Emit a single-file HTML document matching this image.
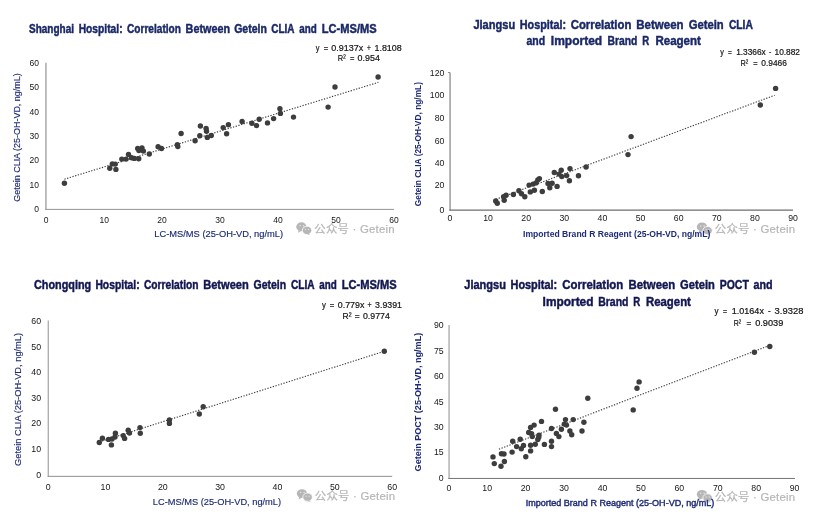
<!DOCTYPE html>
<html lang="en"><head><meta charset="utf-8"><title>Getein 25-OH-VD correlation charts</title>
<style>
html,body{margin:0;padding:0;background:#fff;}
body{width:814px;height:523px;overflow:hidden;}
svg{display:block;will-change:transform;font-family:"Liberation Sans","Noto Sans CJK SC",sans-serif;}
</style></head><body>
<svg width="814" height="523" viewBox="0 0 814 523">
<rect width="814" height="523" fill="#fff"/>
<line x1="45.95" y1="62.8" x2="45.95" y2="209.9" stroke="#939393" stroke-width="1.2"/>
<line x1="45.35" y1="209.4" x2="394.0" y2="209.4" stroke="#959595" stroke-width="1.0"/>
<text x="46.2" y="222.9" font-size="8.5" fill="#161616" text-anchor="middle" font-weight="normal">0</text>
<text x="104.2" y="222.9" font-size="8.5" fill="#161616" text-anchor="middle" font-weight="normal">10</text>
<text x="162.1" y="222.9" font-size="8.5" fill="#161616" text-anchor="middle" font-weight="normal">20</text>
<text x="220.1" y="222.9" font-size="8.5" fill="#161616" text-anchor="middle" font-weight="normal">30</text>
<text x="278.0" y="222.9" font-size="8.5" fill="#161616" text-anchor="middle" font-weight="normal">40</text>
<text x="335.9" y="222.9" font-size="8.5" fill="#161616" text-anchor="middle" font-weight="normal">50</text>
<text x="393.9" y="222.9" font-size="8.5" fill="#161616" text-anchor="middle" font-weight="normal">60</text>
<text x="39.0" y="211.8" font-size="8.5" fill="#161616" text-anchor="end" font-weight="normal">0</text>
<text x="39.0" y="187.5" font-size="8.5" fill="#161616" text-anchor="end" font-weight="normal">10</text>
<text x="39.0" y="163.2" font-size="8.5" fill="#161616" text-anchor="end" font-weight="normal">20</text>
<text x="39.0" y="138.9" font-size="8.5" fill="#161616" text-anchor="end" font-weight="normal">30</text>
<text x="39.0" y="114.6" font-size="8.5" fill="#161616" text-anchor="end" font-weight="normal">40</text>
<text x="39.0" y="90.3" font-size="8.5" fill="#161616" text-anchor="end" font-weight="normal">50</text>
<text x="39.0" y="66.0" font-size="8.5" fill="#161616" text-anchor="end" font-weight="normal">60</text>
<line x1="64.4" y1="179.2" x2="378.4" y2="82.3" stroke="#3a3a3a" stroke-width="1.1" stroke-dasharray="1.3 1.5"/>
<g fill="#3d3d3d"><circle cx="64.4" cy="183.3" r="2.7"/><circle cx="109.8" cy="168.2" r="2.7"/><circle cx="112.3" cy="163.9" r="2.7"/><circle cx="115.3" cy="164.1" r="2.7"/><circle cx="115.9" cy="169.4" r="2.7"/><circle cx="121.8" cy="159.1" r="2.7"/><circle cx="126.1" cy="159.1" r="2.7"/><circle cx="128.5" cy="154.4" r="2.7"/><circle cx="131.6" cy="157.8" r="2.7"/><circle cx="134.3" cy="158.4" r="2.7"/><circle cx="138.7" cy="158.7" r="2.7"/><circle cx="137.7" cy="148.5" r="2.7"/><circle cx="142.0" cy="147.9" r="2.7"/><circle cx="138.9" cy="150.5" r="2.7"/><circle cx="143.4" cy="151.1" r="2.7"/><circle cx="149.3" cy="154.0" r="2.7"/><circle cx="158.1" cy="146.8" r="2.7"/><circle cx="161.5" cy="148.5" r="2.7"/><circle cx="177.4" cy="144.8" r="2.7"/><circle cx="177.8" cy="146.6" r="2.7"/><circle cx="181.1" cy="133.5" r="2.7"/><circle cx="195.1" cy="140.7" r="2.7"/><circle cx="199.8" cy="135.7" r="2.7"/><circle cx="200.4" cy="126.0" r="2.7"/><circle cx="206.1" cy="128.4" r="2.7"/><circle cx="206.5" cy="131.3" r="2.7"/><circle cx="207.3" cy="137.4" r="2.7"/><circle cx="211.3" cy="135.5" r="2.7"/><circle cx="223.2" cy="127.6" r="2.7"/><circle cx="228.4" cy="124.8" r="2.7"/><circle cx="226.6" cy="133.7" r="2.7"/><circle cx="242.1" cy="121.5" r="2.7"/><circle cx="251.9" cy="123.3" r="2.7"/><circle cx="256.5" cy="125.6" r="2.7"/><circle cx="259.2" cy="119.3" r="2.7"/><circle cx="267.5" cy="122.9" r="2.7"/><circle cx="273.6" cy="118.6" r="2.7"/><circle cx="279.9" cy="108.7" r="2.7"/><circle cx="280.4" cy="113.4" r="2.7"/><circle cx="293.5" cy="117.1" r="2.7"/><circle cx="328.1" cy="107.1" r="2.7"/><circle cx="335.0" cy="87.0" r="2.7"/><circle cx="378.1" cy="77.0" r="2.7"/></g>
<line x1="450.05" y1="72.5" x2="450.05" y2="210.7" stroke="#878787" stroke-width="1.25"/>
<line x1="449.43" y1="210.15" x2="793.0" y2="210.15" stroke="#6e6e6e" stroke-width="1.1"/>
<text x="450.0" y="221.4" font-size="9.2" fill="#161616" text-anchor="middle" font-weight="normal" textLength="4.85" lengthAdjust="spacingAndGlyphs">0</text>
<text x="488.1" y="221.4" font-size="9.2" fill="#161616" text-anchor="middle" font-weight="normal" textLength="9.7" lengthAdjust="spacingAndGlyphs">10</text>
<text x="526.2" y="221.4" font-size="9.2" fill="#161616" text-anchor="middle" font-weight="normal" textLength="9.7" lengthAdjust="spacingAndGlyphs">20</text>
<text x="564.3" y="221.4" font-size="9.2" fill="#161616" text-anchor="middle" font-weight="normal" textLength="9.7" lengthAdjust="spacingAndGlyphs">30</text>
<text x="602.4" y="221.4" font-size="9.2" fill="#161616" text-anchor="middle" font-weight="normal" textLength="9.7" lengthAdjust="spacingAndGlyphs">40</text>
<text x="640.6" y="221.4" font-size="9.2" fill="#161616" text-anchor="middle" font-weight="normal" textLength="9.7" lengthAdjust="spacingAndGlyphs">50</text>
<text x="678.7" y="221.4" font-size="9.2" fill="#161616" text-anchor="middle" font-weight="normal" textLength="9.7" lengthAdjust="spacingAndGlyphs">60</text>
<text x="716.8" y="221.4" font-size="9.2" fill="#161616" text-anchor="middle" font-weight="normal" textLength="9.7" lengthAdjust="spacingAndGlyphs">70</text>
<text x="754.9" y="221.4" font-size="9.2" fill="#161616" text-anchor="middle" font-weight="normal" textLength="9.7" lengthAdjust="spacingAndGlyphs">80</text>
<text x="793.0" y="221.4" font-size="9.2" fill="#161616" text-anchor="middle" font-weight="normal" textLength="9.7" lengthAdjust="spacingAndGlyphs">90</text>
<text x="444.4" y="212.8" font-size="9.2" fill="#161616" text-anchor="end" font-weight="normal" textLength="4.85" lengthAdjust="spacingAndGlyphs">0</text>
<text x="444.4" y="188.3" font-size="9.2" fill="#161616" text-anchor="end" font-weight="normal" textLength="9.7" lengthAdjust="spacingAndGlyphs">20</text>
<text x="444.4" y="166.2" font-size="9.2" fill="#161616" text-anchor="end" font-weight="normal" textLength="9.7" lengthAdjust="spacingAndGlyphs">40</text>
<text x="444.4" y="143.5" font-size="9.2" fill="#161616" text-anchor="end" font-weight="normal" textLength="9.7" lengthAdjust="spacingAndGlyphs">60</text>
<text x="444.4" y="120.8" font-size="9.2" fill="#161616" text-anchor="end" font-weight="normal" textLength="9.7" lengthAdjust="spacingAndGlyphs">80</text>
<text x="444.4" y="98.1" font-size="9.2" fill="#161616" text-anchor="end" font-weight="normal" textLength="14.55" lengthAdjust="spacingAndGlyphs">100</text>
<text x="444.4" y="75.6" font-size="9.2" fill="#161616" text-anchor="end" font-weight="normal" textLength="14.55" lengthAdjust="spacingAndGlyphs">120</text>
<line x1="496.0" y1="199.3" x2="774.7" y2="95.2" stroke="#3a3a3a" stroke-width="1.1" stroke-dasharray="1.3 1.5"/>
<g fill="#3d3d3d"><circle cx="495.7" cy="201.0" r="2.7"/><circle cx="497.3" cy="203.3" r="2.7"/><circle cx="503.6" cy="196.7" r="2.7"/><circle cx="504.2" cy="200.2" r="2.7"/><circle cx="506.1" cy="195.3" r="2.7"/><circle cx="513.4" cy="194.5" r="2.7"/><circle cx="518.9" cy="190.8" r="2.7"/><circle cx="521.5" cy="193.7" r="2.7"/><circle cx="524.8" cy="196.7" r="2.7"/><circle cx="529.1" cy="185.1" r="2.7"/><circle cx="530.3" cy="191.9" r="2.7"/><circle cx="533.1" cy="184.1" r="2.7"/><circle cx="534.4" cy="190.2" r="2.7"/><circle cx="536.0" cy="182.9" r="2.7"/><circle cx="537.8" cy="180.0" r="2.7"/><circle cx="539.4" cy="178.6" r="2.7"/><circle cx="542.3" cy="191.5" r="2.7"/><circle cx="548.0" cy="183.5" r="2.7"/><circle cx="549.8" cy="187.8" r="2.7"/><circle cx="552.1" cy="183.3" r="2.7"/><circle cx="554.3" cy="172.5" r="2.7"/><circle cx="557.1" cy="186.4" r="2.7"/><circle cx="559.0" cy="174.1" r="2.7"/><circle cx="561.2" cy="170.3" r="2.7"/><circle cx="561.8" cy="176.6" r="2.7"/><circle cx="566.7" cy="175.6" r="2.7"/><circle cx="569.4" cy="180.7" r="2.7"/><circle cx="570.0" cy="168.6" r="2.7"/><circle cx="578.5" cy="175.8" r="2.7"/><circle cx="586.1" cy="167.0" r="2.7"/><circle cx="628.0" cy="154.6" r="2.7"/><circle cx="631.1" cy="136.6" r="2.7"/><circle cx="760.3" cy="105.0" r="2.7"/><circle cx="775.6" cy="88.4" r="2.7"/></g>
<line x1="48.25" y1="320.5" x2="48.25" y2="476.85" stroke="#a0a0a0" stroke-width="1.15"/>
<line x1="47.67" y1="476.35" x2="392.2" y2="476.35" stroke="#8f8f8f" stroke-width="1.0"/>
<text x="48.1" y="489.6" font-size="8.8" fill="#161616" text-anchor="middle" font-weight="normal">0</text>
<text x="105.4" y="489.6" font-size="8.8" fill="#161616" text-anchor="middle" font-weight="normal">10</text>
<text x="162.8" y="489.6" font-size="8.8" fill="#161616" text-anchor="middle" font-weight="normal">20</text>
<text x="220.1" y="489.6" font-size="8.8" fill="#161616" text-anchor="middle" font-weight="normal">30</text>
<text x="277.5" y="489.6" font-size="8.8" fill="#161616" text-anchor="middle" font-weight="normal">40</text>
<text x="334.8" y="489.6" font-size="8.8" fill="#161616" text-anchor="middle" font-weight="normal">50</text>
<text x="392.2" y="489.6" font-size="8.8" fill="#161616" text-anchor="middle" font-weight="normal">60</text>
<text x="41.1" y="477.6" font-size="8.8" fill="#161616" text-anchor="end" font-weight="normal">0</text>
<text x="41.1" y="451.9" font-size="8.8" fill="#161616" text-anchor="end" font-weight="normal">10</text>
<text x="41.1" y="426.3" font-size="8.8" fill="#161616" text-anchor="end" font-weight="normal">20</text>
<text x="41.1" y="400.7" font-size="8.8" fill="#161616" text-anchor="end" font-weight="normal">30</text>
<text x="41.1" y="375.1" font-size="8.8" fill="#161616" text-anchor="end" font-weight="normal">40</text>
<text x="41.1" y="349.5" font-size="8.8" fill="#161616" text-anchor="end" font-weight="normal">50</text>
<text x="41.1" y="323.9" font-size="8.8" fill="#161616" text-anchor="end" font-weight="normal">60</text>
<line x1="99.3" y1="441.9" x2="384.3" y2="351.3" stroke="#3a3a3a" stroke-width="1.1" stroke-dasharray="1.3 1.5"/>
<g fill="#3d3d3d"><circle cx="99.3" cy="442.5" r="2.7"/><circle cx="102.4" cy="438.2" r="2.7"/><circle cx="108.5" cy="439.4" r="2.7"/><circle cx="111.4" cy="444.9" r="2.7"/><circle cx="112.0" cy="439.0" r="2.7"/><circle cx="115.0" cy="437.0" r="2.7"/><circle cx="115.4" cy="433.3" r="2.7"/><circle cx="123.2" cy="435.6" r="2.7"/><circle cx="124.6" cy="438.4" r="2.7"/><circle cx="128.2" cy="430.3" r="2.7"/><circle cx="129.5" cy="433.1" r="2.7"/><circle cx="140.0" cy="427.6" r="2.7"/><circle cx="140.3" cy="433.3" r="2.7"/><circle cx="169.4" cy="419.9" r="2.7"/><circle cx="169.4" cy="423.4" r="2.7"/><circle cx="199.3" cy="414.0" r="2.7"/><circle cx="203.2" cy="406.7" r="2.7"/><circle cx="384.3" cy="351.3" r="2.7"/></g>
<line x1="449.05" y1="325.0" x2="449.05" y2="478.95" stroke="#a8a8a8" stroke-width="1.3"/>
<line x1="448.4" y1="478.45" x2="795.0" y2="478.45" stroke="#737373" stroke-width="1.0"/>
<text x="448.8" y="490.7" font-size="9.2" fill="#161616" text-anchor="middle" font-weight="normal" textLength="4.85" lengthAdjust="spacingAndGlyphs">0</text>
<text x="487.2" y="490.7" font-size="9.2" fill="#161616" text-anchor="middle" font-weight="normal" textLength="9.7" lengthAdjust="spacingAndGlyphs">10</text>
<text x="525.6" y="490.7" font-size="9.2" fill="#161616" text-anchor="middle" font-weight="normal" textLength="9.7" lengthAdjust="spacingAndGlyphs">20</text>
<text x="564.1" y="490.7" font-size="9.2" fill="#161616" text-anchor="middle" font-weight="normal" textLength="9.7" lengthAdjust="spacingAndGlyphs">30</text>
<text x="602.5" y="490.7" font-size="9.2" fill="#161616" text-anchor="middle" font-weight="normal" textLength="9.7" lengthAdjust="spacingAndGlyphs">40</text>
<text x="640.9" y="490.7" font-size="9.2" fill="#161616" text-anchor="middle" font-weight="normal" textLength="9.7" lengthAdjust="spacingAndGlyphs">50</text>
<text x="679.3" y="490.7" font-size="9.2" fill="#161616" text-anchor="middle" font-weight="normal" textLength="9.7" lengthAdjust="spacingAndGlyphs">60</text>
<text x="717.8" y="490.7" font-size="9.2" fill="#161616" text-anchor="middle" font-weight="normal" textLength="9.7" lengthAdjust="spacingAndGlyphs">70</text>
<text x="756.2" y="490.7" font-size="9.2" fill="#161616" text-anchor="middle" font-weight="normal" textLength="9.7" lengthAdjust="spacingAndGlyphs">80</text>
<text x="794.6" y="490.7" font-size="9.2" fill="#161616" text-anchor="middle" font-weight="normal" textLength="9.7" lengthAdjust="spacingAndGlyphs">90</text>
<text x="443.6" y="480.9" font-size="9.2" fill="#161616" text-anchor="end" font-weight="normal" textLength="4.85" lengthAdjust="spacingAndGlyphs">0</text>
<text x="443.6" y="455.4" font-size="9.2" fill="#161616" text-anchor="end" font-weight="normal" textLength="9.7" lengthAdjust="spacingAndGlyphs">15</text>
<text x="443.6" y="430.0" font-size="9.2" fill="#161616" text-anchor="end" font-weight="normal" textLength="9.7" lengthAdjust="spacingAndGlyphs">30</text>
<text x="443.6" y="404.5" font-size="9.2" fill="#161616" text-anchor="end" font-weight="normal" textLength="9.7" lengthAdjust="spacingAndGlyphs">45</text>
<text x="443.6" y="379.1" font-size="9.2" fill="#161616" text-anchor="end" font-weight="normal" textLength="9.7" lengthAdjust="spacingAndGlyphs">60</text>
<text x="443.6" y="353.6" font-size="9.2" fill="#161616" text-anchor="end" font-weight="normal" textLength="9.7" lengthAdjust="spacingAndGlyphs">75</text>
<text x="443.6" y="328.2" font-size="9.2" fill="#161616" text-anchor="end" font-weight="normal" textLength="9.7" lengthAdjust="spacingAndGlyphs">90</text>
<line x1="498.9" y1="449.2" x2="769.8" y2="345.3" stroke="#3a3a3a" stroke-width="1.1" stroke-dasharray="1.3 1.5"/>
<g fill="#3d3d3d"><circle cx="493.0" cy="456.9" r="2.7"/><circle cx="494.3" cy="463.6" r="2.7"/><circle cx="501.0" cy="466.3" r="2.7"/><circle cx="504.4" cy="461.5" r="2.7"/><circle cx="501.4" cy="453.7" r="2.7"/><circle cx="504.0" cy="454.0" r="2.7"/><circle cx="512.1" cy="452.1" r="2.7"/><circle cx="512.7" cy="441.3" r="2.7"/><circle cx="516.6" cy="446.6" r="2.7"/><circle cx="520.2" cy="439.3" r="2.7"/><circle cx="521.3" cy="448.7" r="2.7"/><circle cx="523.5" cy="445.4" r="2.7"/><circle cx="525.8" cy="456.8" r="2.7"/><circle cx="528.7" cy="432.5" r="2.7"/><circle cx="530.6" cy="427.5" r="2.7"/><circle cx="530.6" cy="445.2" r="2.7"/><circle cx="530.6" cy="450.9" r="2.7"/><circle cx="531.6" cy="433.7" r="2.7"/><circle cx="532.3" cy="436.6" r="2.7"/><circle cx="534.1" cy="425.1" r="2.7"/><circle cx="535.3" cy="444.3" r="2.7"/><circle cx="537.8" cy="439.5" r="2.7"/><circle cx="539.0" cy="435.1" r="2.7"/><circle cx="538.7" cy="437.3" r="2.7"/><circle cx="541.5" cy="421.4" r="2.7"/><circle cx="544.4" cy="444.4" r="2.7"/><circle cx="551.5" cy="428.5" r="2.7"/><circle cx="551.5" cy="441.3" r="2.7"/><circle cx="551.5" cy="446.6" r="2.7"/><circle cx="555.5" cy="409.3" r="2.7"/><circle cx="556.4" cy="433.4" r="2.7"/><circle cx="558.9" cy="436.6" r="2.7"/><circle cx="561.4" cy="429.2" r="2.7"/><circle cx="564.3" cy="424.1" r="2.7"/><circle cx="565.5" cy="419.6" r="2.7"/><circle cx="566.5" cy="425.1" r="2.7"/><circle cx="569.9" cy="431.0" r="2.7"/><circle cx="571.7" cy="434.7" r="2.7"/><circle cx="573.2" cy="419.6" r="2.7"/><circle cx="582.0" cy="431.0" r="2.7"/><circle cx="583.9" cy="422.3" r="2.7"/><circle cx="587.8" cy="398.3" r="2.7"/><circle cx="633.2" cy="409.9" r="2.7"/><circle cx="637.0" cy="388.2" r="2.7"/><circle cx="639.1" cy="381.9" r="2.7"/><circle cx="754.4" cy="352.3" r="2.7"/><circle cx="769.8" cy="346.5" r="2.7"/></g>
<g transform="translate(296.2,222.4)" fill="#b6b6b6"><ellipse cx="5.2" cy="4.35" rx="5.2" ry="4.4"/><path d="M2.3 7.6 L1.9 10.3 L4.9 8.6 Z"/><ellipse cx="10.8" cy="8.0" rx="4.75" ry="4.2" stroke="#fff" stroke-width="0.8"/><path d="M12.4 11.3 L14.0 12.6 L10.9 12.1 Z"/><circle cx="3.9" cy="3.3" r="0.75" fill="#e6e6e6"/><circle cx="7.3" cy="3.3" r="0.75" fill="#e6e6e6"/><circle cx="9.3" cy="7.0" r="0.65" fill="#e6e6e6"/><circle cx="12.3" cy="7.0" r="0.65" fill="#e6e6e6"/></g><text x="314.3" y="233.4" font-size="11.4" fill="#b6b6b6" stroke="#b6b6b6" stroke-width="0.2" textLength="80.2" lengthAdjust="spacing">公众号 · Getein</text>
<g transform="translate(696.8,222.6)" fill="#b6b6b6"><ellipse cx="5.2" cy="4.35" rx="5.2" ry="4.4"/><path d="M2.3 7.6 L1.9 10.3 L4.9 8.6 Z"/><ellipse cx="10.8" cy="8.0" rx="4.75" ry="4.2" stroke="#fff" stroke-width="0.8"/><path d="M12.4 11.3 L14.0 12.6 L10.9 12.1 Z"/><circle cx="3.9" cy="3.3" r="0.75" fill="#e6e6e6"/><circle cx="7.3" cy="3.3" r="0.75" fill="#e6e6e6"/><circle cx="9.3" cy="7.0" r="0.65" fill="#e6e6e6"/><circle cx="12.3" cy="7.0" r="0.65" fill="#e6e6e6"/></g><text x="714.8" y="233.4" font-size="11.4" fill="#b6b6b6" stroke="#b6b6b6" stroke-width="0.2" textLength="80.2" lengthAdjust="spacing">公众号 · Getein</text>
<g transform="translate(296.8,489.2)" fill="#b6b6b6"><ellipse cx="5.2" cy="4.35" rx="5.2" ry="4.4"/><path d="M2.3 7.6 L1.9 10.3 L4.9 8.6 Z"/><ellipse cx="10.8" cy="8.0" rx="4.75" ry="4.2" stroke="#fff" stroke-width="0.8"/><path d="M12.4 11.3 L14.0 12.6 L10.9 12.1 Z"/><circle cx="3.9" cy="3.3" r="0.75" fill="#e6e6e6"/><circle cx="7.3" cy="3.3" r="0.75" fill="#e6e6e6"/><circle cx="9.3" cy="7.0" r="0.65" fill="#e6e6e6"/><circle cx="12.3" cy="7.0" r="0.65" fill="#e6e6e6"/></g><text x="314.8" y="500.2" font-size="11.4" fill="#b6b6b6" stroke="#b6b6b6" stroke-width="0.2" textLength="80.2" lengthAdjust="spacing">公众号 · Getein</text>
<g transform="translate(696.8,490.0)" fill="#b6b6b6"><ellipse cx="5.2" cy="4.35" rx="5.2" ry="4.4"/><path d="M2.3 7.6 L1.9 10.3 L4.9 8.6 Z"/><ellipse cx="10.8" cy="8.0" rx="4.75" ry="4.2" stroke="#fff" stroke-width="0.8"/><path d="M12.4 11.3 L14.0 12.6 L10.9 12.1 Z"/><circle cx="3.9" cy="3.3" r="0.75" fill="#e6e6e6"/><circle cx="7.3" cy="3.3" r="0.75" fill="#e6e6e6"/><circle cx="9.3" cy="7.0" r="0.65" fill="#e6e6e6"/><circle cx="12.3" cy="7.0" r="0.65" fill="#e6e6e6"/></g><text x="714.8" y="501.0" font-size="11.4" fill="#b6b6b6" stroke="#b6b6b6" stroke-width="0.2" textLength="80.2" lengthAdjust="spacing">公众号 · Getein</text>
<path d="M448.0 72.6 H450.0" stroke="#878787" stroke-width="1"/>
<text y="32.5" font-size="12.5" font-weight="bold" fill="#1a2866" stroke="#1a2866" stroke-width="0.45"><tspan x="29.0" textLength="45.0" lengthAdjust="spacingAndGlyphs">Shanghai</tspan> <tspan x="78.7" textLength="43.9" lengthAdjust="spacingAndGlyphs">Hospital:</tspan> <tspan x="127.0" textLength="53.9" lengthAdjust="spacingAndGlyphs">Correlation</tspan> <tspan x="185.6" textLength="44.4" lengthAdjust="spacingAndGlyphs">Between</tspan> <tspan x="234.2" textLength="32.7" lengthAdjust="spacingAndGlyphs">Getein</tspan> <tspan x="271.3" textLength="22.9" lengthAdjust="spacingAndGlyphs">CLIA</tspan> <tspan x="299.3" textLength="17.5" lengthAdjust="spacingAndGlyphs">and</tspan> <tspan x="321.8" textLength="54.8" lengthAdjust="spacingAndGlyphs">LC-MS/MS</tspan></text>
<text y="29.4" font-size="12.8" font-weight="bold" fill="#1a2866" stroke="#1a2866" stroke-width="0.45"><tspan x="473.4" textLength="41.8" lengthAdjust="spacingAndGlyphs">Jiangsu</tspan> <tspan x="519.8" textLength="46.2" lengthAdjust="spacingAndGlyphs">Hospital:</tspan> <tspan x="570.7" textLength="60.7" lengthAdjust="spacingAndGlyphs">Correlation</tspan> <tspan x="636.3" textLength="47.3" lengthAdjust="spacingAndGlyphs">Between</tspan> <tspan x="688.7" textLength="35.0" lengthAdjust="spacingAndGlyphs">Getein</tspan> <tspan x="728.9" textLength="24.0" lengthAdjust="spacingAndGlyphs">CLIA</tspan></text>
<text y="44.5" font-size="12.8" font-weight="bold" fill="#1a2866" stroke="#1a2866" stroke-width="0.45"><tspan x="526.5" textLength="18.7" lengthAdjust="spacingAndGlyphs">and</tspan> <tspan x="550.8" textLength="51.4" lengthAdjust="spacingAndGlyphs">Imported</tspan> <tspan x="607.5" textLength="29.9" lengthAdjust="spacingAndGlyphs">Brand</tspan> <tspan x="642.3" textLength="7.0" lengthAdjust="spacingAndGlyphs">R</tspan> <tspan x="655.4" textLength="45.5" lengthAdjust="spacingAndGlyphs">Reagent</tspan></text>
<text y="289.2" font-size="12.5" font-weight="bold" fill="#121650" stroke="#121650" stroke-width="0.45"><tspan x="34.0" textLength="57.2" lengthAdjust="spacingAndGlyphs">Chongqing</tspan> <tspan x="95.4" textLength="44.3" lengthAdjust="spacingAndGlyphs">Hospital:</tspan> <tspan x="143.9" textLength="54.6" lengthAdjust="spacingAndGlyphs">Correlation</tspan> <tspan x="203.2" textLength="45.6" lengthAdjust="spacingAndGlyphs">Between</tspan> <tspan x="253.5" textLength="32.7" lengthAdjust="spacingAndGlyphs">Getein</tspan> <tspan x="290.9" textLength="23.3" lengthAdjust="spacingAndGlyphs">CLIA</tspan> <tspan x="319.3" textLength="17.5" lengthAdjust="spacingAndGlyphs">and</tspan> <tspan x="341.7" textLength="54.9" lengthAdjust="spacingAndGlyphs">LC-MS/MS</tspan></text>
<text y="288.8" font-size="12.8" font-weight="bold" fill="#121650" stroke="#121650" stroke-width="0.45"><tspan x="464.3" textLength="41.6" lengthAdjust="spacingAndGlyphs">Jiangsu</tspan> <tspan x="510.5" textLength="46.7" lengthAdjust="spacingAndGlyphs">Hospital:</tspan> <tspan x="562.3" textLength="61.0" lengthAdjust="spacingAndGlyphs">Correlation</tspan> <tspan x="628.5" textLength="46.7" lengthAdjust="spacingAndGlyphs">Between</tspan> <tspan x="680.1" textLength="34.7" lengthAdjust="spacingAndGlyphs">Getein</tspan> <tspan x="719.7" textLength="29.2" lengthAdjust="spacingAndGlyphs">POCT</tspan> <tspan x="753.6" textLength="19.1" lengthAdjust="spacingAndGlyphs">and</tspan></text>
<text y="305.5" font-size="12.8" font-weight="bold" fill="#121650" stroke="#121650" stroke-width="0.45"><tspan x="542.6" textLength="50.9" lengthAdjust="spacingAndGlyphs">Imported</tspan> <tspan x="598.2" textLength="30.3" lengthAdjust="spacingAndGlyphs">Brand</tspan> <tspan x="633.2" textLength="7.0" lengthAdjust="spacingAndGlyphs">R</tspan> <tspan x="646.0" textLength="44.9" lengthAdjust="spacingAndGlyphs">Reagent</tspan></text>
<text y="51.0" font-size="8.9" fill="#141414" stroke="#141414" stroke-width="0.2"><tspan x="315.7" textLength="3.7" lengthAdjust="spacingAndGlyphs">y</tspan> <tspan x="323.8" textLength="4.4" lengthAdjust="spacingAndGlyphs">=</tspan> <tspan x="331.3" textLength="32.0" lengthAdjust="spacingAndGlyphs">0.9137x</tspan> <tspan x="367.0" textLength="3.8" lengthAdjust="spacingAndGlyphs">+</tspan> <tspan x="374.5" textLength="27.2" lengthAdjust="spacingAndGlyphs">1.8108</tspan></text>
<text y="61.2" font-size="8.9" fill="#141414" stroke="#141414" stroke-width="0.2"><tspan x="337.8" textLength="7.9" lengthAdjust="spacingAndGlyphs">R²</tspan> <tspan x="350.1" textLength="4.4" lengthAdjust="spacingAndGlyphs">=</tspan> <tspan x="357.6" textLength="22.3" lengthAdjust="spacingAndGlyphs">0.954</tspan></text>
<text y="54.7" font-size="8.9" fill="#141414" stroke="#141414" stroke-width="0.2"><tspan x="720.2" textLength="3.6" lengthAdjust="spacingAndGlyphs">y</tspan> <tspan x="727.9" textLength="3.8" lengthAdjust="spacingAndGlyphs">=</tspan> <tspan x="736.2" textLength="29.6" lengthAdjust="spacingAndGlyphs">1.3366x</tspan> <tspan x="769.0" textLength="2.3" lengthAdjust="spacingAndGlyphs">-</tspan> <tspan x="774.5" textLength="25.5" lengthAdjust="spacingAndGlyphs">10.882</tspan></text>
<text y="66.2" font-size="8.9" fill="#141414" stroke="#141414" stroke-width="0.2"><tspan x="740.6" textLength="7.7" lengthAdjust="spacingAndGlyphs">R²</tspan> <tspan x="753.2" textLength="4.3" lengthAdjust="spacingAndGlyphs">=</tspan> <tspan x="761.3" textLength="25.6" lengthAdjust="spacingAndGlyphs">0.9466</tspan></text>
<text y="307.6" font-size="8.9" fill="#141414" stroke="#141414" stroke-width="0.2"><tspan x="322.1" textLength="3.9" lengthAdjust="spacingAndGlyphs">y</tspan> <tspan x="329.8" textLength="4.5" lengthAdjust="spacingAndGlyphs">=</tspan> <tspan x="337.8" textLength="26.5" lengthAdjust="spacingAndGlyphs">0.779x</tspan> <tspan x="367.5" textLength="4.1" lengthAdjust="spacingAndGlyphs">+</tspan> <tspan x="375.1" textLength="26.9" lengthAdjust="spacingAndGlyphs">3.9391</tspan></text>
<text y="318.7" font-size="8.9" fill="#141414" stroke="#141414" stroke-width="0.2"><tspan x="342.6" textLength="8.9" lengthAdjust="spacingAndGlyphs">R²</tspan> <tspan x="354.7" textLength="4.9" lengthAdjust="spacingAndGlyphs">=</tspan> <tspan x="363.0" textLength="26.8" lengthAdjust="spacingAndGlyphs">0.9774</tspan></text>
<text y="314.2" font-size="8.9" fill="#141414" stroke="#141414" stroke-width="0.2"><tspan x="714.4" textLength="4.0" lengthAdjust="spacingAndGlyphs">y</tspan> <tspan x="723.1" textLength="4.0" lengthAdjust="spacingAndGlyphs">=</tspan> <tspan x="731.8" textLength="32.1" lengthAdjust="spacingAndGlyphs">1.0164x</tspan> <tspan x="767.9" textLength="2.7" lengthAdjust="spacingAndGlyphs">-</tspan> <tspan x="774.6" textLength="28.8" lengthAdjust="spacingAndGlyphs">3.9328</tspan></text>
<text y="325.6" font-size="8.9" fill="#141414" stroke="#141414" stroke-width="0.2"><tspan x="733.8" textLength="7.3" lengthAdjust="spacingAndGlyphs">R²</tspan> <tspan x="746.5" textLength="4.7" lengthAdjust="spacingAndGlyphs">=</tspan> <tspan x="755.2" textLength="28.1" lengthAdjust="spacingAndGlyphs">0.9039</tspan></text>
<text x="154.3" y="237.3" font-size="8.8" fill="#1e2b76" text-anchor="start" font-weight="normal" textLength="128.8" lengthAdjust="spacingAndGlyphs" stroke="#1e2b76" stroke-width="0.15">LC-MS/MS (25-OH-VD, ng/mL)</text>
<text x="523.0" y="237.3" font-size="8.8" fill="#1e2b76" text-anchor="start" font-weight="bold" textLength="187.3" lengthAdjust="spacingAndGlyphs">Imported Brand R Reagent (25-OH-VD, ng/mL)</text>
<text x="152.8" y="505.2" font-size="8.8" fill="#1e2b76" text-anchor="start" font-weight="normal" textLength="128.3" lengthAdjust="spacingAndGlyphs" stroke="#1e2b76" stroke-width="0.15">LC-MS/MS (25-OH-VD, ng/mL)</text>
<text x="525.7" y="505.8" font-size="8.8" fill="#1e2b76" text-anchor="start" font-weight="normal" textLength="188.6" lengthAdjust="spacingAndGlyphs" stroke="#1e2b76" stroke-width="0.4">Imported Brand R Reagent (25-OH-VD, ng/mL)</text>
<text transform="translate(20.0,137.5) rotate(-90)" font-size="8.8" fill="#1e2b76" text-anchor="middle" font-weight="normal" textLength="128.4" lengthAdjust="spacingAndGlyphs" stroke="#1e2b76" stroke-width="0.15">Getein CLIA (25-OH-VD, ng/mL)</text>
<text transform="translate(421.4,144.1) rotate(-90)" font-size="8.8" fill="#1e2b76" text-anchor="middle" font-weight="bold" textLength="124.2" lengthAdjust="spacingAndGlyphs">Getein CLIA (25-OH-VD, ng/mL)</text>
<text transform="translate(20.6,399.4) rotate(-90)" font-size="8.8" fill="#1e2b76" text-anchor="middle" font-weight="normal" textLength="133.0" lengthAdjust="spacingAndGlyphs" stroke="#1e2b76" stroke-width="0.15">Getein CLIA (25-OH-VD, ng/mL)</text>
<text transform="translate(421.4,402.1) rotate(-90)" font-size="8.8" fill="#1e2b76" text-anchor="middle" font-weight="bold" textLength="138.6" lengthAdjust="spacingAndGlyphs">Getein POCT (25-OH-VD, ng/mL)</text>
</svg>
</body></html>
